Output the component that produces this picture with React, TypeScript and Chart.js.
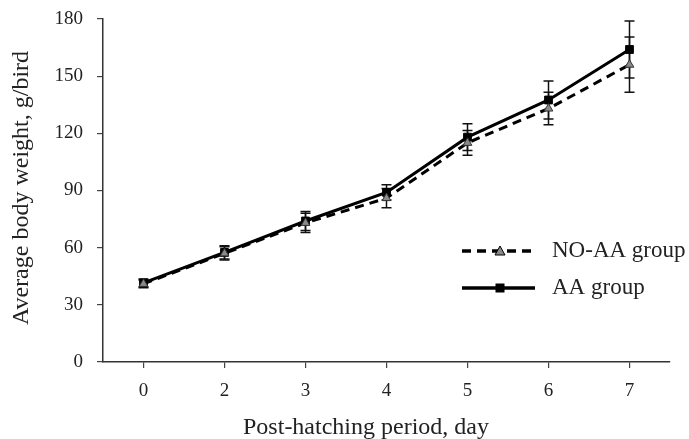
import React, { useEffect, useRef } from "react";
import { Chart, registerables } from "chart.js";

Chart.register(...registerables);

const categories = ["0", "2", "3", "4", "5", "6", "7"];
const noAaValues = [41, 57, 73, 86, 115, 133, 156];
const noAaErrors = [2, 3.5, 5, 5, 6.5, 8.5, 14.5];
const aaValues = [41.5, 57.5, 74, 89, 118, 137.5, 164];
const aaErrors = [2, 3.5, 5, 4, 7, 10, 15];
const yTicks = [0, 30, 60, 90, 120, 150, 180];
const seriesNames = ["NO-AA group", "AA group"];
const xTitle = "Post-hatching period, day";
const yTitle = "Average body weight, g/bird";

const FONT = "'Liberation Serif', 'Times New Roman', serif";

const errorBarPlugin = {
  id: "errorBars",
  beforeDatasetsDraw(chart: any) {
    const ctx = chart.ctx;
    const y = chart.scales.y;
    chart.data.datasets.forEach((ds: any, di: number) => {
      const meta = chart.getDatasetMeta(di);
      const errs: number[] = ds.errors || [];
      ctx.save();
      ctx.strokeStyle = "#111";
      ctx.lineWidth = 1.5;
      ctx.setLineDash([]);
      meta.data.forEach((pt: any, i: number) => {
        const v = ds.data[i];
        const e = errs[i];
        const yt = y.getPixelForValue(v + e);
        const yb = y.getPixelForValue(v - e);
        const x = pt.x;
        ctx.beginPath();
        ctx.moveTo(x, yt);
        ctx.lineTo(x, yb);
        ctx.moveTo(x - 5, yt);
        ctx.lineTo(x + 5, yt);
        ctx.moveTo(x - 5, yb);
        ctx.lineTo(x + 5, yb);
        ctx.stroke();
      });
      ctx.restore();
    });
  },
};

const legendPlugin = {
  id: "customLegend",
  afterDraw(chart: any) {
    const ctx = chart.ctx;
    const x0 = 462;
    const x1 = 535;
    const xm = 500;
    const rows = [251, 288];
    ctx.save();
    chart.data.datasets.forEach((ds: any, i: number) => {
      const yy = rows[i];
      ctx.strokeStyle = "#000";
      ctx.lineWidth = 3.5;
      ctx.setLineDash(ds.borderDash || []);
      ctx.beginPath();
      ctx.moveTo(x0, yy);
      ctx.lineTo(x1, yy);
      ctx.stroke();
      ctx.setLineDash([]);
      ctx.fillStyle = ds.pointBackgroundColor;
      ctx.strokeStyle = "#000";
      ctx.lineWidth = 1;
      if (ds.pointStyle === "triangle") {
        ctx.beginPath();
        ctx.moveTo(xm, yy - 5);
        ctx.lineTo(xm + 5, yy + 4);
        ctx.lineTo(xm - 5, yy + 4);
        ctx.closePath();
        ctx.fill();
        ctx.stroke();
      } else {
        ctx.fillRect(xm - 4.5, yy - 4.5, 9, 9);
      }
      ctx.fillStyle = "#222";
      ctx.font = "23px " + FONT;
      ctx.textBaseline = "middle";
      ctx.textAlign = "left";
      ctx.fillText(ds.label, 552, yy);
    });
    ctx.restore();
  },
};

const titlePlugin = {
  id: "axisTitles",
  afterDraw(chart: any) {
    const ctx = chart.ctx;
    ctx.save();
    ctx.fillStyle = "#222";
    ctx.font = "24px " + FONT;
    ctx.textAlign = "center";
    ctx.textBaseline = "alphabetic";
    ctx.fillText(xTitle, 366, 434);
    ctx.translate(28, 188);
    ctx.rotate(-Math.PI / 2);
    ctx.fillText(yTitle, 0, 0);
    ctx.restore();
  },
};

export default function App() {
  const ref = useRef<HTMLCanvasElement>(null);
  useEffect(() => {
    document.body.style.margin = "0";
    const chart = new Chart(ref.current!, {
      type: "line",
      data: {
        labels: categories,
        datasets: [
          {
            label: seriesNames[0],
            data: noAaValues,
            errors: noAaErrors,
            borderColor: "#000",
            borderWidth: 3,
            borderDash: [9, 6],
            pointStyle: "triangle",
            pointRadius: 5,
            pointBackgroundColor: "#8a8a8a",
            pointBorderColor: "#333",
            pointBorderWidth: 1,
            tension: 0,
          } as any,
          {
            label: seriesNames[1],
            data: aaValues,
            errors: aaErrors,
            borderColor: "#000",
            borderWidth: 3,
            pointStyle: "rect",
            pointRadius: 5.5,
            pointBackgroundColor: "#000",
            pointBorderColor: "#000",
            pointBorderWidth: 1,
            tension: 0,
          } as any,
        ],
      },
      options: {
        animation: false,
        responsive: false,
        layout: { padding: { left: 8, right: 19, top: 19, bottom: 0 } },
        plugins: { legend: { display: false }, tooltip: { enabled: false } },
        scales: {
          x: {
            type: "category",
            offset: true,
            grid: {
              display: true,
              drawOnChartArea: false,
              drawTicks: true,
              tickLength: 6,
              color: "#444",
              lineWidth: 1.2,
              offset: false,
            },
            border: { display: true, color: "#333", width: 1.5 },
            ticks: {
              color: "#222",
              font: { family: FONT, size: 19 },
              padding: 12,
              maxRotation: 0,
            },
            title: { display: false, text: xTitle },
            afterFit(scale: any) {
              scale.height = 77;
              scale.paddingLeft = 0;
              scale.paddingRight = 0;
            },
          },
          y: {
            min: 0,
            max: 180,
            afterBuildTicks(scale: any) {
              scale.ticks = yTicks.map((v) => ({ value: v }));
            },
            grid: {
              display: true,
              drawOnChartArea: false,
              drawTicks: true,
              tickLength: 6,
              color: "#444",
              lineWidth: 1.2,
            },
            border: { display: true, color: "#333", width: 1.5 },
            ticks: {
              color: "#222",
              font: { family: FONT, size: 19 },
              padding: 14,
            },
            title: { display: false, text: yTitle },
            afterFit(scale: any) {
              scale.width = 95;
              scale.paddingTop = 0;
              scale.paddingBottom = 0;
            },
          },
        },
      },
      plugins: [errorBarPlugin, legendPlugin, titlePlugin],
    } as any);
    return () => chart.destroy();
  }, []);
  return (
    <div style={{ position: "fixed", left: 0, top: 0, width: 689, height: 439, background: "#fff" }}>
      <canvas ref={ref} width={689} height={439} />
    </div>
  );
}
